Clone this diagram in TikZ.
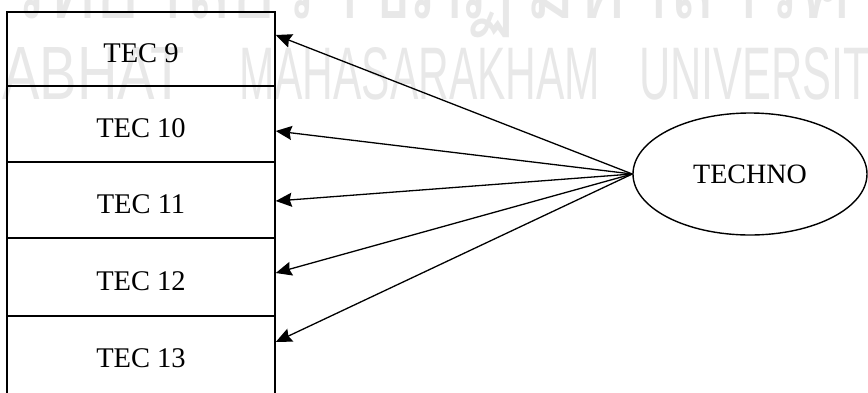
\documentclass[tikz,border=0pt]{standalone}
\usepackage{fontspec}
\usepackage{graphicx}
\setmainfont{Liberation Serif}
\newfontfamily\wmfont{Liberation Sans}
\newfontfamily\thaifont[Script=Thai]{Loma}
\usetikzlibrary{arrows.meta,shapes.geometric}
\begin{document}
\begin{tikzpicture}[x=1pt,y=-1pt,
  cell/.style={draw, line width=1.5pt, minimum width=268pt, inner sep=0pt,
    text height=27pt, text depth=0pt, font=\fontsize{28.5}{31}\selectfont},
  wm/.style={text=black!9, inner sep=0pt},
  link/.style={line width=1.3pt, -{Stealth[length=16pt,width=14pt,inset=2pt]}}
]
\useasboundingbox (0,0) rectangle (868,392);
\clip (0,0) rectangle (868,392);
% watermark
\node[wm, anchor=south west] (w1) at (2,100) {\resizebox{183pt}{52pt}{\wmfont ABHAT}};
\node[wm, anchor=south west] (w2) at (239,100) {\resizebox{361pt}{52pt}{\wmfont MAHASARAKHAM}};
\node[wm, anchor=south west] (w3) at (639,100) {\resizebox{260pt}{52pt}{\wmfont UNIVERSITY}};
\node[wm, anchor=base east] (w4) at (515,18) {\scalebox{0.8}[1]{\thaifont\fontsize{96}{100}\selectfont มหาวิทยาลัยราชภัฏ}};
\node[wm, anchor=base west] (w5) at (525,18) {\scalebox{0.8}[1]{\thaifont\fontsize{96}{100}\selectfont มหาสารคาม}};
% boxes
\node[cell, minimum height=74pt] (r9) at (141,49) {TEC 9};
\node[cell, minimum height=76pt] (r10) at (141,124) {TEC 10};
\node[cell, minimum height=76pt] (r11) at (141,200) {TEC 11};
\node[cell, minimum height=78pt] (r12) at (141,277) {TEC 12};
\node[cell, minimum height=84pt, text height=19pt] (r13) at (141,358) {TEC 13};
% ellipse
\node[draw, ellipse, line width=1.4pt, minimum width=234pt, minimum height=122pt,
  inner sep=0pt, font=\fontsize{28}{31}\selectfont] (techno) at (750,174) {TECHNO};
% arrows
\draw[link] (techno.west) -- ([yshift=14pt]r9.east);
\draw[link] (techno.west) -- ([yshift=-7pt]r10.east);
\draw[link] (techno.west) -- ([yshift=-1pt]r11.east);
\draw[link] (techno.west) -- ([yshift=4pt]r12.east);
\draw[link] (techno.west) -- ([yshift=16pt]r13.east);
\end{tikzpicture}
\end{document}
